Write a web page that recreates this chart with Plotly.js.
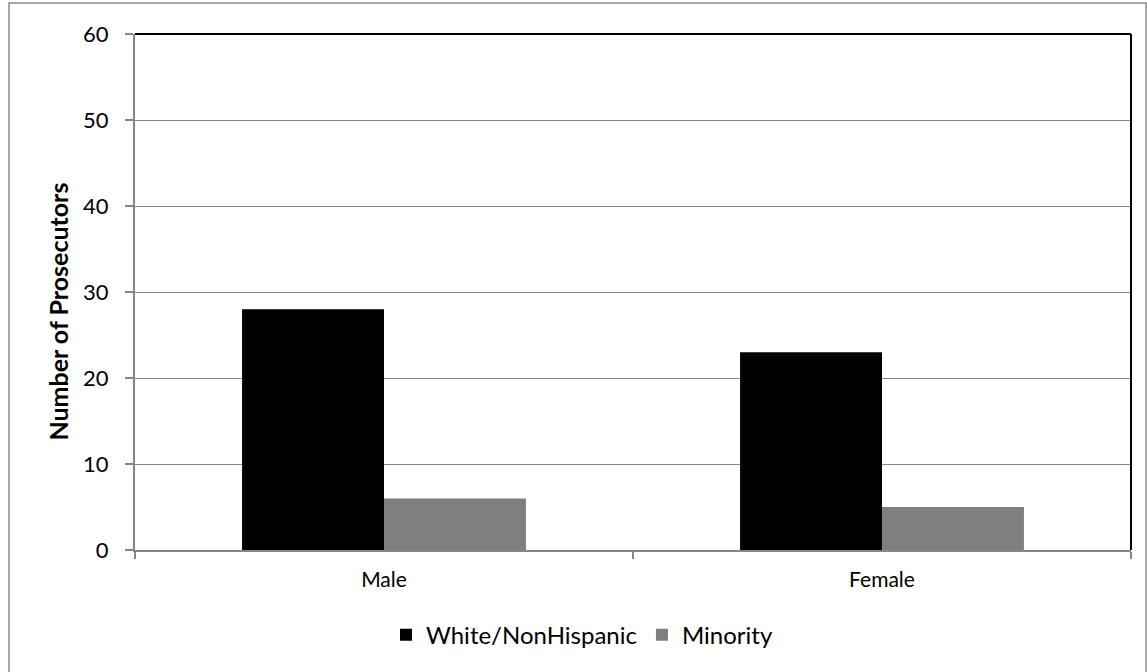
<!DOCTYPE html>
<html>
<head>
<meta charset="utf-8">
<script src="https://cdn.plot.ly/plotly-3.0.1.min.js"></script>
<style>
  html, body { margin: 0; padding: 0; background: #fff; }
  #chart { width: 1147px; height: 672px; }
</style>
</head>
<body>
<div id="chart"></div>
<script>
// Prosecutors by gender and race
const categories = ['Male', 'Female'];
const whiteNonHispanic = [28, 23];
const minority = [6, 5];
const seriesNames = ['White/NonHispanic', 'Minority'];
const yTicks = [0, 10, 20, 30, 40, 50, 60];
const yTitle = 'Number of Prosecutors';

const font = 'Lato, "Open Sans", sans-serif';

const traces = [
  {
    type: 'bar',
    name: seriesNames[0],
    x: categories,
    y: whiteNonHispanic,
    marker: { color: '#000000', line: { width: 0 } },
    hoverinfo: 'x+y+name'
  },
  {
    type: 'bar',
    name: seriesNames[1],
    x: categories,
    y: minority,
    marker: { color: '#7f7f7f', line: { width: 0 } },
    hoverinfo: 'x+y+name'
  }
];

const layout = {
  width: 1147,
  height: 672,
  margin: { l: 135, r: 16, t: 34, b: 122 },
  paper_bgcolor: '#ffffff',
  plot_bgcolor: '#ffffff',
  barmode: 'group',
  bargap: 0.43,
  bargroupgap: 0,
  font: { family: font, color: '#000000' },
  xaxis: {
    type: 'category',
    tickson: 'boundaries',
    ticks: 'outside',
    ticklen: 7,
    tickwidth: 1.5,
    tickcolor: '#868686',
    showline: true,
    linecolor: '#868686',
    linewidth: 2,
    showgrid: false,
    zeroline: false,
    tickfont: { family: font, size: 21, color: '#000000' },
    ticklabelstandoff: 10
  },
  yaxis: {
    range: [0, 60],
    tickvals: yTicks,
    ticktext: yTicks.map(String),
    ticks: 'outside',
    ticklen: 8,
    tickwidth: 1.5,
    tickcolor: '#868686',
    showline: true,
    linecolor: '#868686',
    linewidth: 2,
    showgrid: true,
    gridcolor: '#868686',
    gridwidth: 1,
    zeroline: false,
    tickfont: { family: font, size: 22, color: '#000000' },
    ticklabelstandoff: 12
  },
  // y-axis title placed as a rotated annotation, sitting a little below the plot's middle
  annotations: [
    {
      text: '<b>' + yTitle + '</b>',
      xref: 'paper', yref: 'paper',
      x: -0.0773, y: 0.462,
      xanchor: 'center', yanchor: 'middle',
      textangle: -90,
      showarrow: false,
      font: { family: font, size: 25, color: '#000000' }
    }
  ],
  showlegend: true,
  legend: {
    orientation: 'h',
    x: 0.252,
    xanchor: 'left',
    y: -0.165,
    yanchor: 'middle',
    font: { family: font, size: 24, color: '#000000' },
    itemsizing: 'constant',
    tracegroupgap: 0
  },
  shapes: [
    // outer chart frame
    { type: 'rect', xref: 'paper', yref: 'paper',
      x0: -0.1265, x1: 1.0151, y0: -0.26, y1: 1.0602,
      line: { color: '#8c8c8c', width: 1.5 }, layer: 'below' },
    // plot area border on top and right
    { type: 'line', xref: 'paper', yref: 'paper',
      x0: 0, x1: 1, y0: 1, y1: 1,
      line: { color: '#000000', width: 2 } },
    { type: 'line', xref: 'paper', yref: 'paper',
      x0: 1, x1: 1, y0: 0, y1: 1,
      line: { color: '#000000', width: 2 } }
  ]
};

Plotly.newPlot('chart', traces, layout, { displayModeBar: false, staticPlot: true });
</script>
</body>
</html>
